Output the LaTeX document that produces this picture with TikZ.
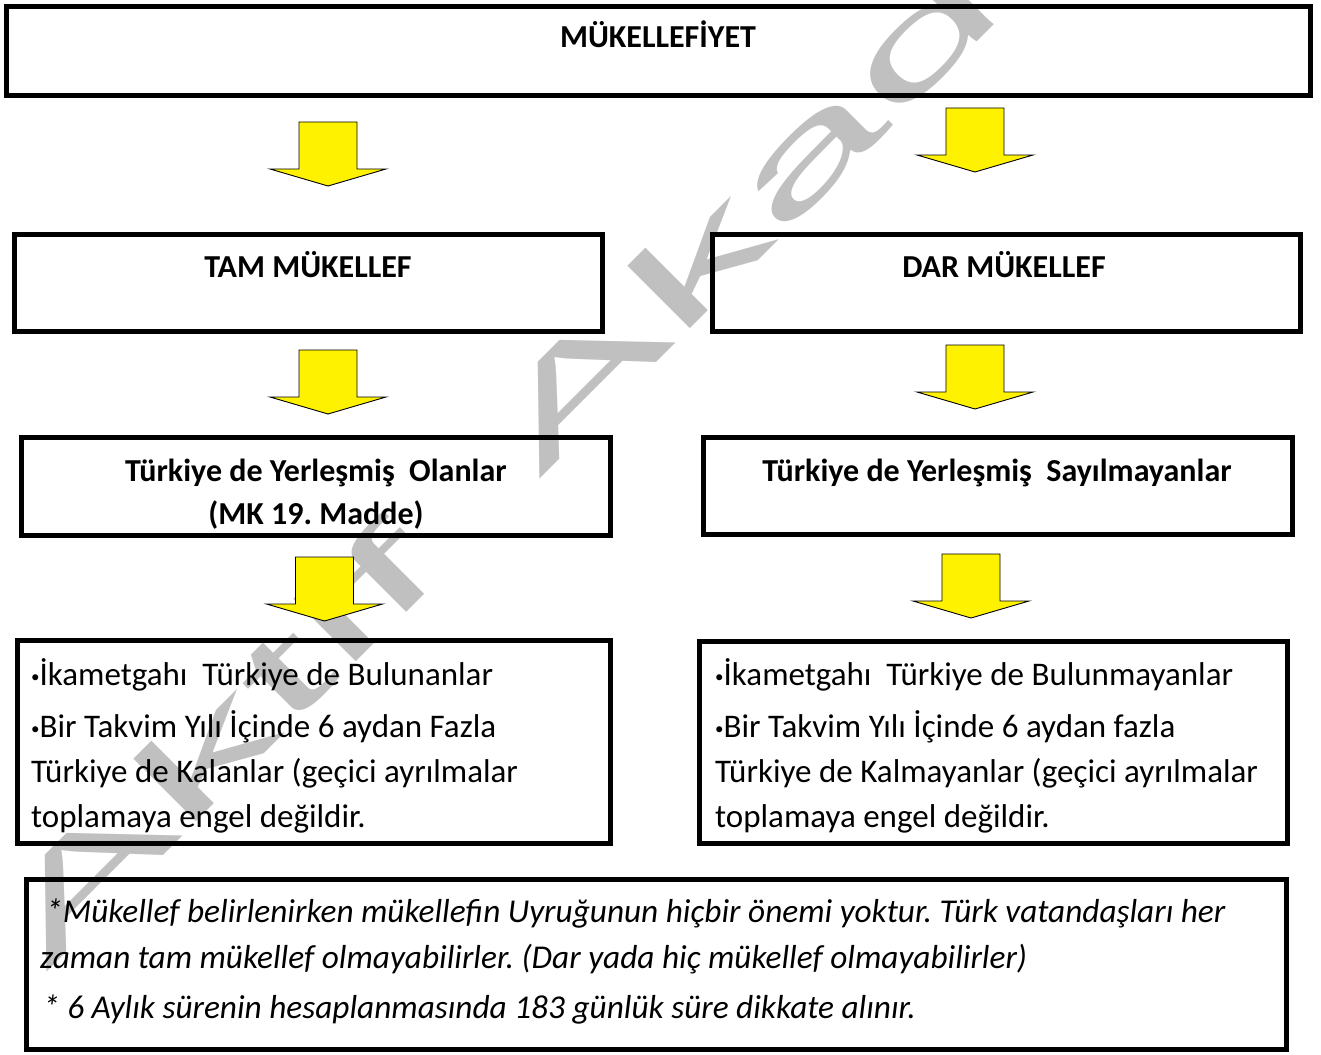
\documentclass[tikz,border=0pt]{standalone}
\usepackage{fontspec}
\setmainfont{Carlito}
\newfontfamily\wmfont{Liberation Sans}
\definecolor{wmgray}{RGB}{192,192,192}
\newcommand{\bul}{{\fontsize{17}{17}\selectfont\raisebox{2.5pt}{•}}}
\tikzset{
  box/.style={draw, line width=5.5pt, inner sep=0pt},
  head/.style={font=\bfseries\fontsize{32}{38}\selectfont, anchor=base, inner sep=0pt},
  txt/.style={font=\fontsize{33}{38}\selectfont, anchor=base west, inner sep=0pt},
  note/.style={font=\itshape\fontsize{33.3}{38}\selectfont, anchor=base west, inner sep=0pt},
  wm/.style={font=\wmfont\fontsize{122}{140}\selectfont, text=wmgray, inner sep=0pt},
  pics/downarrow/.style={code={
    \draw[fill=yellow, line width=0.9pt, line join=miter]
      (-29,0) -- (29,0) -- (29,47) -- (58,47) -- (0,64) -- (-58,47) -- (-29,47) -- cycle;
  }}
}
\begin{document}
\frenchspacing
\begin{tikzpicture}[x=1pt, y=-1pt]
  \useasboundingbox (0,0) rectangle (1321,1054);
  % watermark behind everything
  \node[wm, rotate=45, xscale=2.38, anchor=base west] (wmark) at (45.7,972.9) {Aktif\hspace{22pt} Akad};

  % boxes
  \node[box, minimum width=1304, minimum height=89] (top) at (658.5,51) {};
  \node[box, minimum width=588, minimum height=97] (tam) at (308.5,283) {};
  \node[box, minimum width=588, minimum height=97] (dar) at (1006.5,283) {};
  \node[box, minimum width=589, minimum height=98] (olan) at (316,486.5) {};
  \node[box, minimum width=589, minimum height=97] (sayil) at (998,486) {};
  \node[box, minimum width=593, minimum height=203] (tambul) at (314,742) {};
  \node[box, minimum width=588, minimum height=202] (darbul) at (993.5,742.5) {};
  \node[box, minimum width=1260, minimum height=170] (note) at (656.5,964.5) {};

  % yellow arrows
  \pic (a1) at (328,122) {downarrow};
  \pic (b1) at (975,108) {downarrow};
  \pic (a2) at (328,350) {downarrow};
  \pic (b2) at (975,345) {downarrow};
  \pic (a3) at (324.5,557) {downarrow};
  \pic (b3) at (971,554) {downarrow};

  % titles
  \node[head] (toptxt) at (658,48) {MÜKELLEFİYET};
  \node[head] (tamtxt) at (308,277) {TAM MÜKELLEF};
  \node[head] (dartxt) at (1004,277) {DAR MÜKELLEF};
  \node[head] (olan1) at (316,481) {Türkiye de Yerleşmiş\ \ Olanlar};
  \node[head] (olan2) at (316,524) {(MK 19. Madde)};
  \node[head] (sayil1) at (997,481) {Türkiye de Yerleşmiş\ \ Sayılmayanlar};

  % left list
  \node[txt] (tb1) at (31,685) {\bul İkametgahı\ \ Türkiye de Bulunanlar};
  \node[txt] (tb2) at (31,737) {\bul Bir Takvim Yılı İçinde 6 aydan Fazla};
  \node[txt] (tb3) at (31,782) {Türkiye de Kalanlar (geçici ayrılmalar};
  \node[txt] (tb4) at (31,827) {toplamaya engel değildir.};

  % right list
  \node[txt] (db1) at (715,685) {\bul İkametgahı\ \ Türkiye de Bulunmayanlar};
  \node[txt] (db2) at (715,737) {\bul Bir Takvim Yılı İçinde 6 aydan fazla};
  \node[txt] (db3) at (715,782) {Türkiye de Kalmayanlar (geçici ayrılmalar};
  \node[txt] (db4) at (715,827) {toplamaya engel değildir.};

  % footnote
  \node[note] (n1) at (46,922) {*Mükellef belirlenirken mükellefin Uyruğunun hiçbir önemi yoktur. Türk vatandaşları her};
  \node[note] (n2) at (40,968) {zaman tam mükellef olmayabilirler. (Dar yada hiç mükellef olmayabilirler)};
  \node[note] (n3) at (43,1018) {* 6 Aylık sürenin hesaplanmasında 183 günlük süre dikkate alınır.};
\end{tikzpicture}
\end{document}
